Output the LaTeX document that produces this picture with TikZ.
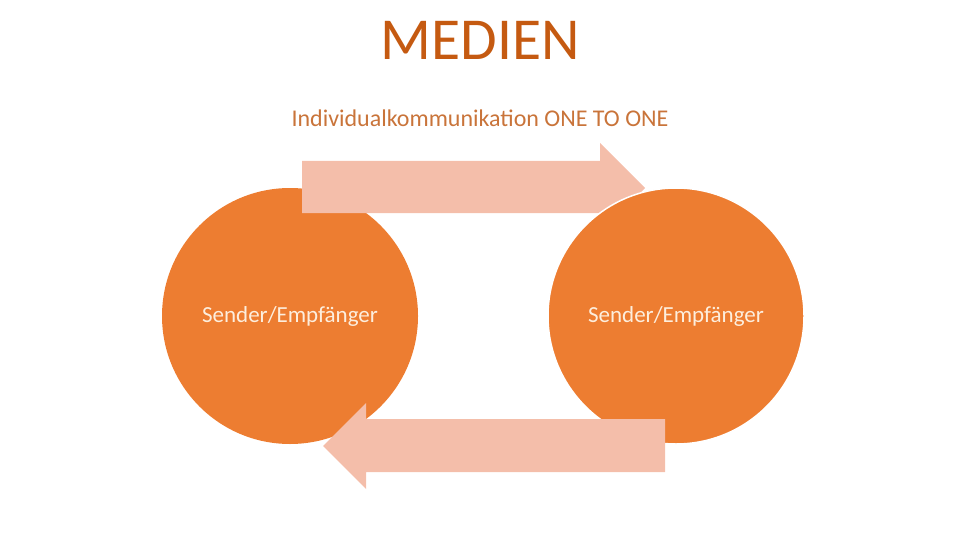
\documentclass[tikz,border=0pt]{standalone}
\usepackage{fontspec}
\setmainfont{Carlito}
\usetikzlibrary{positioning,calc}
\definecolor{titlebrown}{HTML}{C55A11}
\definecolor{subbrown}{HTML}{C9743A}
\definecolor{circorange}{HTML}{ED7D31}
\definecolor{arrowpink}{HTML}{F4BEAA}
\definecolor{cream}{HTML}{FDEEDD}
\begin{document}
\begin{tikzpicture}[
    x=1pt,y=-1pt,
    partner/.style={circle,fill=circorange,minimum size=256pt,inner sep=0pt},
    partnertext/.style={anchor=base,text=cream,font=\fontsize{23}{26}\selectfont},
    flow/.style={fill=arrowpink}
  ]
  \useasboundingbox (0,0) rectangle (960,540);
  \node[anchor=base,text=titlebrown,font=\fontsize{59.5}{62}\selectfont] (title) at (480,60) {MEDIEN};
  \node[anchor=base,text=subbrown,font=\fontsize{24}{28}\selectfont] (sub) at (480,127) {Individualkommunikation ONE TO ONE};
  % left partner, then the upper arrow, then right partner on top
  \node[partner] (left) at (290,316) {};
  \node[partnertext] (lefttext) at (290,322) {Sender/Empfänger};
  \fill[flow] (302,161) -- (600,161) -- (600,143) -- (645,188) -- (600,233) -- (600,213) -- (302,213) -- cycle;
  \node[partner,draw=white,line width=1.5pt] (right) at (676,316) {};
  \node[partnertext] (righttext) at (676,322) {Sender/Empfänger};
  % lower arrow back
  \fill[flow] (665,419) -- (366,419) -- (366,403) -- (323,446) -- (366,489) -- (366,472) -- (665,472) -- cycle;
\end{tikzpicture}
\end{document}
